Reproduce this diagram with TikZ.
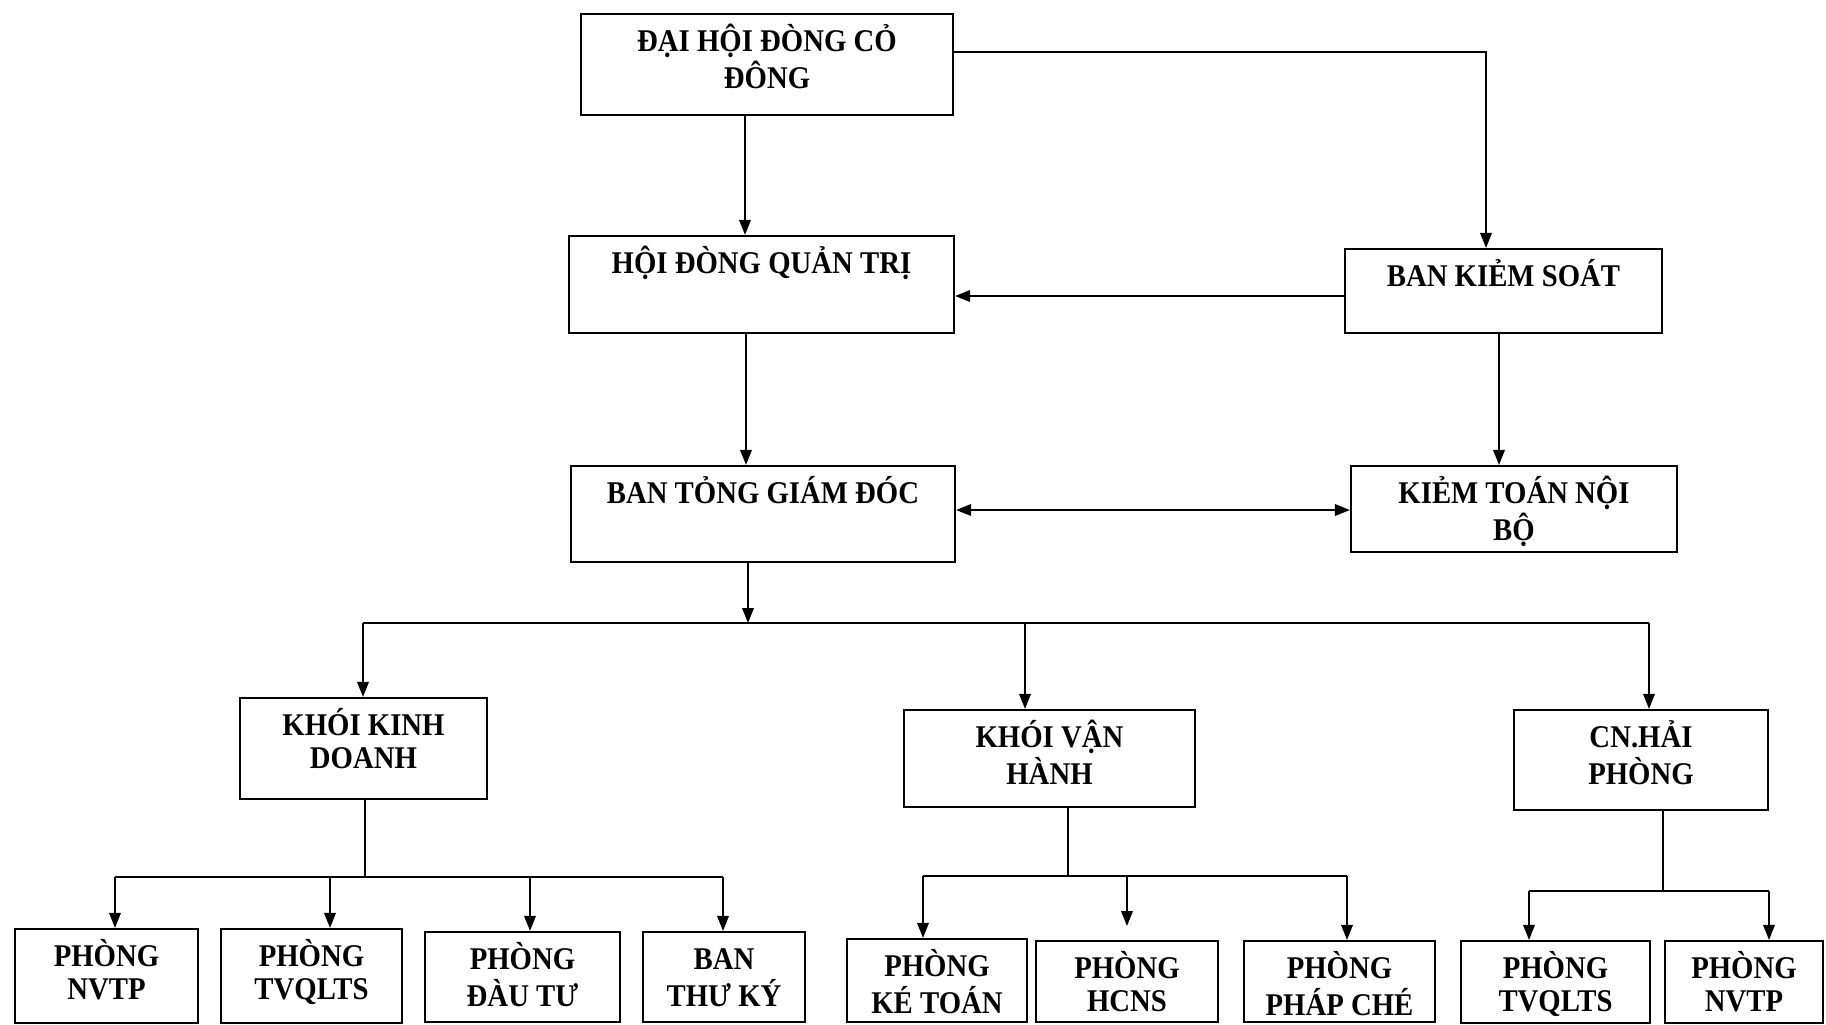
\documentclass[tikz,border=0pt]{standalone}
\usepackage{fontspec}
\setmainfont{Liberation Serif}[FakeStretch=0.91]
\usetikzlibrary{arrows.meta}
\newcommand\orgbox[6]{%
  \node[box, minimum width={(#4-#2)*0.5pt}, minimum height={(#5-#3)*0.5pt},
    label={[lbl]north:{\begin{tabular}[t]{@{}c@{}}#6\end{tabular}}}]
    (#1) at ({(#2+#4)/2},{(#3+#5)/2}) {};}
\begin{document}
\begin{tikzpicture}[x=0.5pt,y=-0.5pt,
  box/.style={draw, line width=1.1pt, inner sep=0pt},
  lbl/.style={anchor=base, yshift=-19.4pt, inner sep=0pt, font=\bfseries\fontsize{15.8}{16.2}\selectfont},
  conn/.style={line width=0.8pt},
  arr/.style={conn, -{Triangle[length=7.5pt,width=5.8pt]}},
  darr/.style={conn, {Triangle[length=7.5pt,width=5.8pt]}-{Triangle[length=7.5pt,width=5.8pt]}}]
\useasboundingbox (0,0) rectangle (1826,1024);

\orgbox{dhd}{581}{14}{953}{115}{ĐẠI HỘI ĐÒNG CỎ\\ĐÔNG}
\orgbox{hdqt}{569}{236}{954}{333}{HỘI ĐÒNG QUẢN TRỊ}
\orgbox{bks}{1345}{249}{1662}{333}{BAN KIẺM SOÁT}
\orgbox{btgd}{571}{466}{955}{562}{BAN TỎNG GIÁM ĐÓC}
\orgbox{ktnb}{1351}{466}{1677}{552}{KIẺM TOÁN NỘI\\BỘ}
\orgbox{kkd}{240}{698}{487}{799}{KHÓI KINH\\DOANH}
\orgbox{kvh}{904}{710}{1195}{807}{KHÓI VẬN\\HÀNH}
\orgbox{cnhp}{1514}{710}{1768}{810}{CN.HẢI\\PHÒNG}
\orgbox{b1}{15}{929}{198}{1023}{PHÒNG\\NVTP}
\orgbox{b2}{221}{929}{402}{1023}{PHÒNG\\TVQLTS}
\orgbox{b3}{425}{932}{620}{1022}{PHÒNG\\ĐÀU TƯ}
\orgbox{b4}{643}{932}{805}{1022}{BAN\\THƯ KÝ}
\orgbox{b5}{847}{939}{1027}{1022}{PHÒNG\\KÉ TOÁN}
\orgbox{b6}{1036}{941}{1218}{1022}{PHÒNG\\HCNS}
\orgbox{b7}{1244}{941}{1435}{1022}{PHÒNG\\PHÁP CHÉ}
\orgbox{b8}{1461}{941}{1650}{1023}{PHÒNG\\TVQLTS}
\orgbox{b9}{1665}{941}{1823}{1023}{PHÒNG\\NVTP}

% reference coordinates
\coordinate (xa) at (745,0);
\coordinate (xb) at (746,0);
\coordinate (xc) at (1486,0);
\coordinate (xd) at (1499,0);
\coordinate (xe) at (748,0);
\coordinate (ya) at (0,52);
\coordinate (yb) at (0,296);
\coordinate (yc) at (0,510);
\coordinate (corner1) at (1486,52);

% top levels
\draw[arr] (dhd.south -| xa) -- (hdqt.north -| xa);
\draw[arr] (dhd.east |- ya) -- (corner1) -- (bks.north -| xc);
\draw[arr] (bks.west |- yb) -- (hdqt.east |- yb);
\draw[arr] (hdqt.south -| xb) -- (btgd.north -| xb);
\draw[arr] (bks.south -| xd) -- (ktnb.north -| xd);
\draw[darr] (btgd.east |- yc) -- (ktnb.west |- yc);

% main bus
\coordinate (busL) at (363,623);
\coordinate (busR) at (1649,623);
\coordinate (busM) at (748,623);
\coordinate (busV) at (1025,623);
\draw[arr] (btgd.south -| xe) -- (busM);
\draw[conn] (busL) -- (busR);
\draw[arr] (busL) -- (kkd.north -| busL);
\draw[arr] (busV) -- (kvh.north -| busV);
\draw[arr] (busR) -- (cnhp.north -| busR);

% khoi kinh doanh
\coordinate (k0) at (365,877);
\coordinate (k1) at (115,877);
\coordinate (k2) at (330,877);
\coordinate (k3) at (530,877);
\coordinate (k4) at (723,877);
\draw[conn] (kkd.south -| k0) -- (k0);
\draw[conn] (k1) -- (k4);
\draw[arr] (k1) -- (b1.north -| k1);
\draw[arr] (k2) -- (b2.north -| k2);
\draw[arr] (k3) -- (b3.north -| k3);
\draw[arr] (k4) -- (b4.north -| k4);

% khoi van hanh
\coordinate (v0) at (1068,876);
\coordinate (v1) at (923,876);
\coordinate (v2) at (1127,876);
\coordinate (v2e) at (1127,926);
\coordinate (v3) at (1347,876);
\draw[conn] (kvh.south -| v0) -- (v0);
\draw[conn] (v1) -- (v3);
\draw[arr] (v1) -- (b5.north -| v1);
\draw[arr] (v2) -- (v2e);
\draw[arr] (v3) -- (b7.north -| v3);

% cn hai phong
\coordinate (c0) at (1663,891);
\coordinate (c1) at (1529,891);
\coordinate (c2) at (1769,891);
\draw[conn] (cnhp.south -| c0) -- (c0);
\draw[conn] (c1) -- (c2);
\draw[arr] (c1) -- (b8.north -| c1);
\draw[arr] (c2) -- (b9.north -| c2);
\end{tikzpicture}
\end{document}
